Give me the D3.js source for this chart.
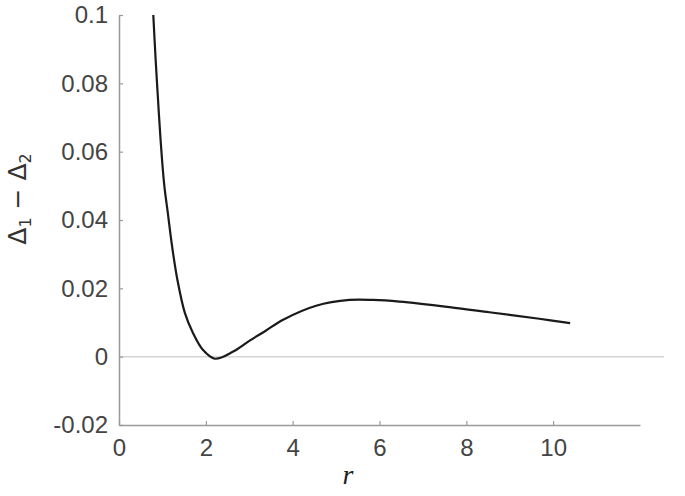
<!DOCTYPE html>
<html>
<head>
<meta charset="utf-8">
<script src="https://cdn.jsdelivr.net/npm/d3@7"></script>
<style>
  body { margin: 0; background: #fff; }
</style>
</head>
<body>
<div id="chart"></div>
<script>
// curve
var rValues = [0.79, 0.845, 0.9, 0.958, 1.04, 1.125, 1.225, 1.345, 1.517, 1.701, 1.931, 2.21, 2.63, 3.01, 3.38, 3.78, 4.54, 5.31, 5.85, 6.46, 7.61, 8.53, 9.68, 10.39];
var deltaDiff = [0.1, 0.0867, 0.075, 0.0634, 0.0505, 0.042, 0.0321, 0.0225, 0.0128, 0.007, 0.002, -0.0006, 0.0015, 0.0047, 0.0076, 0.0108, 0.0149, 0.0166, 0.0166, 0.0161, 0.0145, 0.013, 0.0111, 0.0098];
var xTicks = [0, 2, 4, 6, 8, 10];
var yTicks = [-0.02, 0, 0.02, 0.04, 0.06, 0.08, 0.1];
var yTickLabels = ["-0.02", "0", "0.02", "0.04", "0.06", "0.08", "0.1"];

var width = 685, height = 496;
var margin = { top: 15, right: 45, bottom: 71, left: 119 };
var textColor = "#444";
var axisColor = "#999";

var svg = d3.select("#chart").append("svg")
  .attr("width", width)
  .attr("height", height);

var x = d3.scaleLinear().domain([0, 12]).range([margin.left, width - margin.right]);
var y = d3.scaleLinear().domain([-0.02, 0.1]).range([height - margin.bottom, margin.top]);

// zero line, runs a bit past the axis end
svg.append("line")
  .attr("x1", x(0)).attr("x2", x(12.55))
  .attr("y1", y(0)).attr("y2", y(0))
  .attr("stroke", "#d4d4d4")
  .attr("stroke-width", 1.5);

var xAxis = svg.append("g")
  .attr("transform", "translate(0," + y(-0.02) + ")")
  .call(d3.axisBottom(x).tickValues(xTicks).tickSizeInner(-4).tickSizeOuter(0).tickPadding(14));

var yAxis = svg.append("g")
  .attr("transform", "translate(" + x(0) + ",0)")
  .call(d3.axisLeft(y).tickValues(yTicks).tickSizeInner(-4).tickSizeOuter(0).tickPadding(11)
    .tickFormat(function (d, i) { return yTickLabels[i]; }));

[xAxis, yAxis].forEach(function (g) {
  g.select(".domain").attr("stroke", axisColor).attr("stroke-width", 1.5);
  g.selectAll(".tick line").attr("stroke", axisColor).attr("stroke-width", 1.2);
  g.selectAll(".tick text")
    .attr("fill", textColor)
    .style("font-family", "Liberation Sans, Arial, sans-serif")
    .style("font-size", "24px");
});

var line = d3.line()
  .x(function (d) { return x(d[0]); })
  .y(function (d) { return y(d[1]); })
  .curve(d3.curveCatmullRom.alpha(0.5));

svg.append("path")
  .datum(rValues.map(function (r, i) { return [r, deltaDiff[i]]; }))
  .attr("d", line)
  .attr("fill", "none")
  .attr("stroke", "#1a1a1a")
  .attr("stroke-width", 2.2);

// axis titles
svg.append("text")
  .attr("x", 348).attr("y", 484)
  .attr("text-anchor", "middle")
  .attr("fill", "#222")
  .style("font-family", "Liberation Serif, serif")
  .style("font-style", "italic")
  .style("font-size", "28px")
  .text("r");

var ylab = svg.append("text")
  .attr("transform", "translate(26,199) rotate(-90)")
  .attr("text-anchor", "middle")
  .attr("fill", "#333")
  .style("font-family", "DejaVu Sans, sans-serif")
  .style("font-size", "25px");
ylab.append("tspan").text("Δ");
ylab.append("tspan").attr("dy", 5).style("font-size", "16px").text("1");
ylab.append("tspan").attr("dy", -5).text(" − Δ");
ylab.append("tspan").attr("dy", 5).style("font-size", "16px").text("2");
</script>
</body>
</html>
